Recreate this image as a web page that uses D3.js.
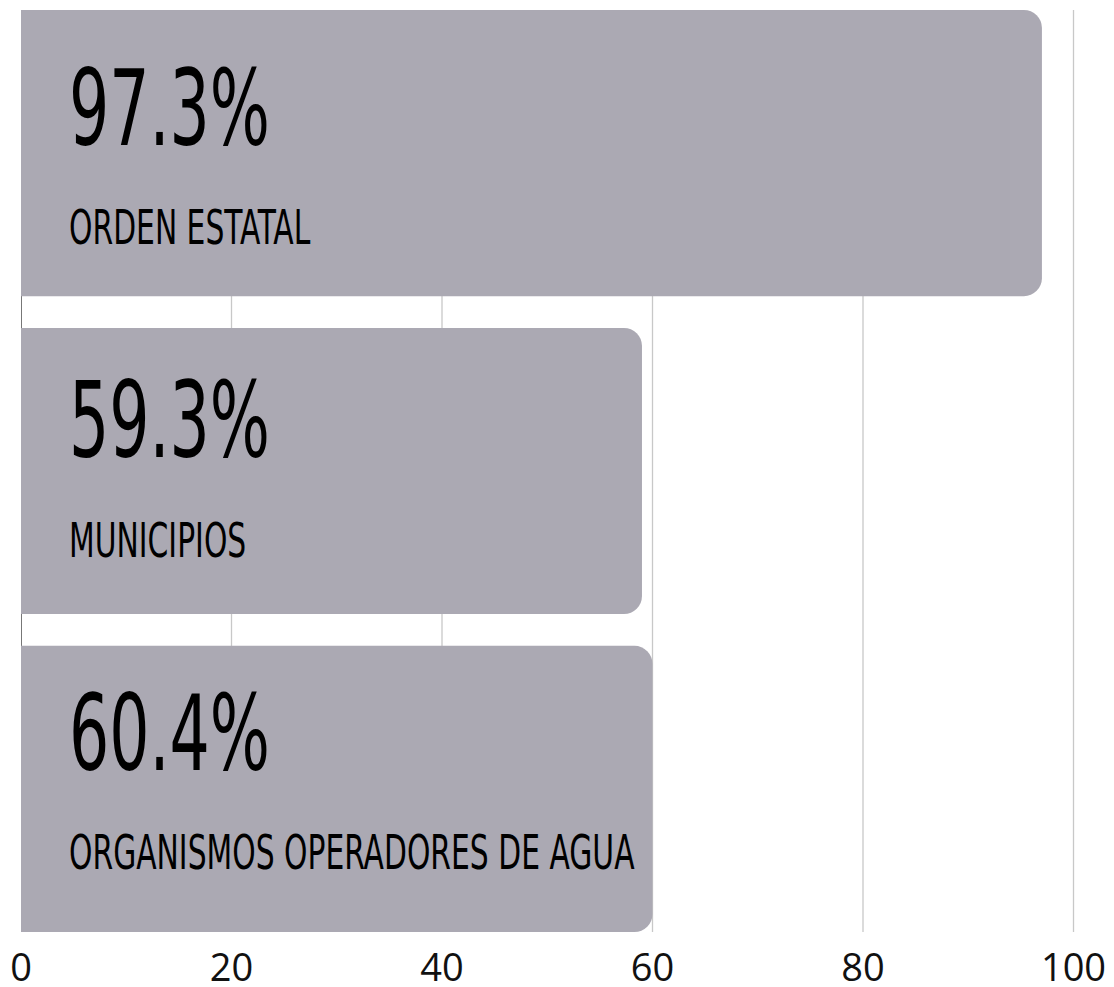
<!DOCTYPE html>
<meta charset="utf-8">
<style>
  body { margin: 0; background: #fff; }
  .grid line { stroke: #c8c8c8; stroke-width: 1.3; }
  .tick-label { font-family: "Open Sans", sans-serif; font-size: 38px; fill: #111; }
  .big { font-family: "Liberation Sans Narrow", "DejaVu Sans Condensed", sans-serif; fill: #000; }
</style>
<div id="chart"></div>
<script src="https://cdn.jsdelivr.net/npm/d3@7/dist/d3.min.js"></script>
<script>
// datos
var categories = ["ORDEN ESTATAL", "MUNICIPIOS", "ORGANISMOS OPERADORES DE AGUA"];
var values = [97.3, 59.3, 60.4];      // etiquetas
var barValues = [97, 59, 60];         // largo de barra tal como se ve en la imagen
var ticks = [0, 20, 40, 60, 80, 100];

var W = 1114, H = 987;

var svg = d3.select("#chart").append("svg")
  .attr("width", W).attr("height", H);

var x = d3.scaleLinear().domain([0, 100]).range([21, 1073.5]);
var y = d3.scaleBand().domain(categories).range([10, 932]).paddingInner(0.1).paddingOuter(0);
// las etiquetas no siguen exactamente el paso de las barras
var yText = d3.scalePoint().domain(categories).range([144.5, 769.5]);

// rejilla
var grid = svg.append("g").attr("class", "grid");
grid.selectAll("line").data(ticks.slice(1)).enter().append("line")
  .attr("x1", function(d) { return x(d); }).attr("x2", function(d) { return x(d); })
  .attr("y1", 10).attr("y2", 932);

// eje izquierdo
svg.append("line")
  .attr("x1", x(0) + 0.5).attr("x2", x(0) + 0.5)
  .attr("y1", 10).attr("y2", 932)
  .attr("stroke", "#777").attr("stroke-width", 1);

// barras con esquinas redondeadas a la derecha
var r = 18;
function barPath(x0, x1, y0, h) {
  return "M" + x0 + "," + y0 +
    "H" + (x1 - r) +
    "A" + r + "," + r + " 0 0 1 " + x1 + "," + (y0 + r) +
    "V" + (y0 + h - r) +
    "A" + r + "," + r + " 0 0 1 " + (x1 - r) + "," + (y0 + h) +
    "H" + x0 + "Z";
}

var data = categories.map(function(c, i) { return { cat: c, value: values[i], bar: barValues[i] }; });

svg.append("g").selectAll("path").data(data).enter().append("path")
  .attr("d", function(d) { return barPath(x(0), x(d.bar), y(d.cat), y.bandwidth()); })
  .attr("fill", "#aba9b3");

// textos (fuente condensada estrechada a mano)
var labels = svg.append("g");
data.forEach(function(d) {
  labels.append("text").attr("class", "big")
    .attr("transform", "translate(69," + yText(d.cat) + ") scale(0.67,1)")
    .style("font-size", "105px")
    .text(d3.format(".1f")(d.value) + "%");
  labels.append("text").attr("class", "big")
    .attr("transform", "translate(69," + (yText(d.cat) + 99.5) + ") scale(0.69,1)")
    .style("font-size", "48px")
    .text(d.cat);
});

// etiquetas del eje x
svg.append("g").selectAll("text").data(ticks).enter().append("text")
  .attr("class", "tick-label")
  .attr("x", function(d) { return x(d); })
  .attr("y", 981)
  .attr("text-anchor", "middle")
  .text(function(d) { return d; });
</script>
